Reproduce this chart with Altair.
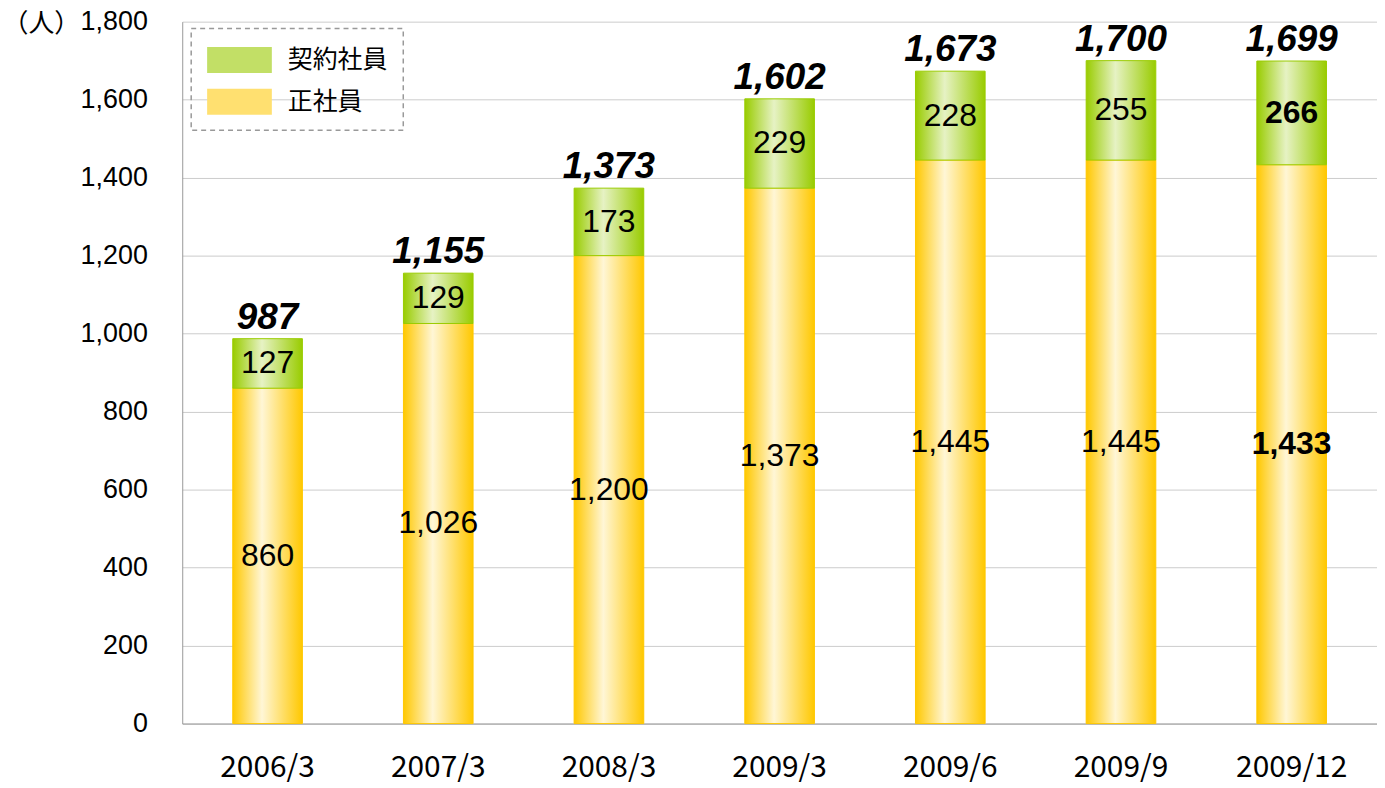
import altair as alt
import pandas as pd

categories = ["2006/3", "2007/3", "2008/3", "2009/3", "2009/6", "2009/9", "2009/12"]
regular = [860, 1026, 1200, 1373, 1445, 1445, 1433]      # 正社員
contract = [127, 129, 173, 229, 228, 255, 266]           # 契約社員
totals = [987, 1155, 1373, 1602, 1673, 1700, 1699]
series_names = ["契約社員", "正社員"]

df = pd.DataFrame({"cat": categories, "regular": regular, "contract": contract, "total": totals})
df_long = pd.DataFrame({
    "cat": categories * 2,
    "series": ["正社員"] * len(categories) + ["契約社員"] * len(categories),
    "value": regular + contract,
})

YEL = "#ffc800"
GRN = "#99cc00"

def grad(edge, light, pos=0.42):
    return alt.Gradient(gradient="linear", x1=0, x2=1, y1=0, y2=0,
                        stops=[alt.GradientStop(offset=0, color=edge),
                               alt.GradientStop(offset=pos, color=light),
                               alt.GradientStop(offset=1, color=edge)])

FONT = "Liberation Sans"
JFONT = "Noto Sans CJK JP"

x_enc = alt.X("cat:N", sort=categories, title=None,
              scale=alt.Scale(paddingInner=0.592, paddingOuter=0.296),
              axis=alt.Axis(labelAngle=0, labelFont=JFONT, labelFontSize=30, labelColor="black",
                            labelPadding=29, ticks=False, domainColor="#999999", grid=False))
y_scale = alt.Scale(domain=[0, 1800], nice=False)
y_axis = alt.Axis(values=list(range(0, 1801, 200)), format=",d", labelFont=FONT, labelFontSize=27,
                  labelColor="black", labelPadding=35, ticks=False, domainColor="#999999",
                  gridColor="#cccccc", title="（人）", titleAngle=0, titleX=-181, titleY=2,
                  titleAlign="left", titleBaseline="middle", titleFont=JFONT, titleFontSize=26,
                  titleFontWeight="normal", titleColor="black")

base = alt.Chart(df).encode(x=x_enc)

bars_reg = base.mark_bar(color=grad(YEL, "#fff6d6"), stroke=YEL, strokeWidth=1).encode(
    y=alt.Y("regular:Q", scale=y_scale, axis=y_axis))
bars_con = base.mark_bar(color=grad(GRN, "#e6f2c4"), stroke=GRN, strokeWidth=1).encode(
    y=alt.Y("regular:Q"), y2="total:Q")

legend_layer = alt.Chart(df_long).mark_bar(strokeWidth=0).encode(
    x=alt.X("cat:N", sort=categories),
    y=alt.Y("value:Q"),
    y2="value:Q",
    color=alt.Color("series:N", scale=alt.Scale(domain=series_names, range=["#c2df66", "#ffe070"]),
                    legend=alt.Legend(
                        title=None, orient="none", legendX=9, legendY=7,
                        symbolType="M-2,-0.8H2V0.8H-2Z", symbolSize=1056, symbolOffset=17,
                        symbolStrokeWidth=0, symbolOpacity=1, labelOffset=32,
                        labelFont=JFONT, labelFontSize=25, labelColor="black",
                        rowPadding=12, padding=15)))

reg_lab = base.transform_calculate(mid="datum.regular/2").encode(
    y="mid:Q", text=alt.Text("regular:Q", format=",d"))
con_lab = base.transform_calculate(mid="datum.regular + datum.contract/2").encode(
    y="mid:Q", text=alt.Text("contract:Q", format=",d"))
not_last = alt.datum.cat != "2009/12"
is_last = alt.datum.cat == "2009/12"

txt_reg = reg_lab.transform_filter(not_last).mark_text(font=FONT, fontSize=32, color="black")
txt_reg_b = reg_lab.transform_filter(is_last).mark_text(font=FONT, fontSize=32, fontWeight="bold", color="black")
txt_con = con_lab.transform_filter(not_last).mark_text(font=FONT, fontSize=32, color="black")
txt_con_b = con_lab.transform_filter(is_last).mark_text(font=FONT, fontSize=32, fontWeight="bold", color="black")
txt_tot = base.mark_text(font=FONT, fontSize=37, fontWeight="bold", fontStyle="italic",
                         color="black", baseline="alphabetic", dy=-10).encode(
    y="total:Q", text=alt.Text("total:Q", format=",d"))

chart = alt.layer(bars_reg, bars_con, legend_layer, txt_reg, txt_reg_b, txt_con, txt_con_b, txt_tot).properties(
    width=1200, height=705,
    padding={"left": 175, "top": 12, "right": 0, "bottom": 60},
    autosize=alt.AutoSizeParams(type="none"),
).configure_view(stroke=None).configure_legend(
    strokeColor="#999999", strokeDash=[5, 4], strokeWidth=1.5)

chart.save("out.html", embed_options={"renderer": "svg", "actions": False})
